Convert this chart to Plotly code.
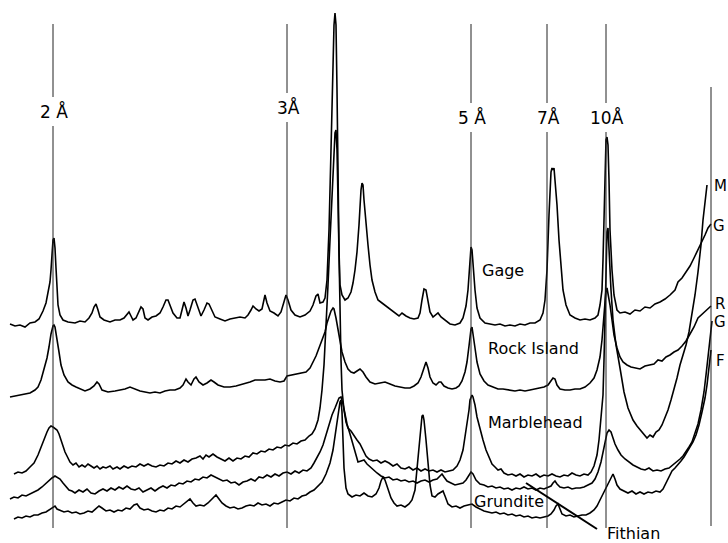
import plotly.graph_objects as go

# ---- data: diffractogram traces (x = chart position, y = row from top) ----
GAGE = [(10,324),(15,326),(20,325),(25,327),(30,323),(35,322),(39,319),(43,311),(46,303),(48,294),(50,282),(51,270),(52,254),(53,240),(54,238),(55,248),(56,268),(57,290),(58,305),(60,315),(63,320),(68,322),(75,323),(80,321),(85,322),(89,318),(92,313),(94,307),(96,304),(98,310),(100,317),(104,320),(110,322),(115,320),(120,320),(124,318),(127,315),(129,312),(131,316),(133,320),(136,318),(139,312),(141,307),(143,309),(145,318),(148,320),(152,317),(156,316),(160,313),(163,307),(166,300),(168,300),(170,306),(173,313),(177,318),(180,318),(182,310),(184,302),(186,308),(188,316),(190,310),(193,300),(195,299),(198,308),(201,316),(204,310),(207,303),(209,304),(212,311),(215,317),(220,319),(225,321),(230,319),(235,318),(240,317),(245,318),(248,315),(251,310),(253,306),(256,309),(259,311),(262,309),(264,300),(265,295),(267,303),(270,311),(274,313),(278,316),(281,312),(284,302),(286,295),(288,300),(291,310),(295,315),(300,317),(305,315),(310,311),(313,305),(316,296),(318,294),(320,303),(323,302),(325,298),(327,280),(329,230),(331,150),(333,60),(334,25),(335,13),(336,25),(337,90),(338,180),(339,250),(340,285),(342,295),(345,300),(348,298),(351,292),(353,283),(355,270),(357,252),(359,225),(360,205),(361,190),(362,183),(363,185),(364,200),(366,225),(368,245),(370,265),(372,280),(375,292),(378,300),(382,303),(386,306),(390,309),(393,312),(396,314),(399,316),(402,313),(406,316),(410,318),(414,319),(418,318),(420,313),(422,300),(424,289),(426,290),(428,300),(430,312),(433,317),(436,314),(438,313),(441,317),(445,320),(450,324),(455,325),(460,323),(463,318),(466,306),(468,290),(469,273),(470,255),(471,247),(472,250),(473,265),(475,290),(477,308),(480,318),(485,323),(490,324),(495,325),(500,324),(505,326),(510,325),(515,326),(520,324),(525,325),(530,323),(535,323),(540,320),(543,313),(545,300),(547,270),(549,215),(550,185),(551,172),(552,168),(553,170),(554,168),(555,178),(557,205),(559,240),(561,270),(563,290),(566,305),(570,315),(575,318),(580,320),(585,319),(590,320),(595,318),(598,315),(600,305),(602,290),(603,260),(604,210),(605,165),(606,140),(607,137),(608,145),(609,180),(610,230),(612,270),(614,295),(617,310),(620,313),(625,312),(630,314),(635,310),(640,311),(645,307),(650,308),(655,304),(660,302),(665,299),(670,295),(675,290),(678,282),(682,278),(686,272),(690,266),(694,258),(698,250),(702,242),(705,235),(708,228),(711,224)]

ROCK_ISLAND = [(10,397),(15,396),(20,395),(25,394),(30,393),(35,390),(38,387),(41,380),(44,370),(47,358),(49,347),(51,334),(53,326),(54,325),(55,327),(57,338),(59,352),(61,365),(64,375),(68,382),(72,385),(76,387),(80,389),(85,391),(90,389),(94,386),(97,382),(99,384),(102,390),(108,392),(115,391),(120,390),(125,389),(130,387),(135,389),(140,391),(145,392),(150,393),(155,392),(160,393),(165,391),(170,390),(175,390),(180,388),(183,385),(186,379),(188,382),(191,385),(194,379),(196,377),(199,382),(203,385),(207,383),(211,380),(214,382),(218,385),(224,387),(230,387),(236,386),(240,385),(245,384),(250,382),(255,380),(260,380),(265,380),(270,379),(275,381),(280,382),(284,381),(287,376),(292,375),(297,374),(302,373),(306,372),(310,368),(313,362),(316,356),(319,348),(322,340),(325,332),(327,323),(329,316),(331,311),(333,308),(334,309),(336,318),(338,330),(340,342),(342,352),(345,362),(348,369),(351,372),(354,373),(357,371),(360,369),(363,372),(366,377),(370,382),(375,384),(380,383),(385,382),(390,384),(395,386),(400,387),(405,388),(410,388),(414,386),(418,383),(421,377),(423,371),(425,364),(426,362),(428,368),(430,377),(433,383),(436,385),(439,382),(441,382),(444,386),(448,388),(452,389),(456,388),(459,386),(462,381),(465,372),(467,362),(469,346),(470,336),(471,329),(472,327),(473,333),(475,348),(477,362),(480,374),(484,381),(488,385),(493,387),(498,389),(503,389),(510,390),(515,391),(520,390),(525,391),(530,390),(535,389),(540,388),(544,387),(548,385),(551,381),(553,378),(555,379),(557,385),(560,389),(565,390),(570,390),(575,389),(580,389),(585,387),(590,383),(594,378),(597,370),(600,357),(602,340),(604,318),(605,300),(606,290),(607,288),(608,293),(610,305),(612,320),(614,335),(617,348),(620,357),(623,362),(627,365),(631,367),(636,368),(640,369),(645,366),(650,365),(654,364),(658,360),(662,361),(666,357),(670,355),(674,352),(678,350),(682,346),(686,341),(690,334),(694,327),(698,318),(702,314),(706,310),(711,306)]

MARBLEHEAD = [(14,474),(18,472),(22,473),(26,471),(30,467),(34,463),(38,455),(41,447),(44,440),(47,432),(49,428),(51,426),(53,427),(55,429),(57,430),(59,434),(61,440),(63,447),(65,452),(67,456),(70,462),(73,465),(76,463),(79,467),(82,465),(85,467),(88,464),(91,466),(94,468),(97,466),(100,469),(103,467),(106,468),(110,466),(113,469),(117,467),(120,469),(124,466),(128,468),(132,466),(136,467),(140,464),(144,466),(148,464),(152,466),(156,467),(160,465),(164,466),(168,463),(172,464),(176,461),(180,463),(184,460),(188,462),(192,459),(196,458),(200,456),(203,459),(206,455),(209,457),(213,454),(217,457),(221,459),(225,461),(229,458),(233,461),(237,458),(241,459),(245,456),(249,457),(253,453),(257,454),(261,451),(265,452),(269,449),(273,450),(277,447),(281,448),(285,445),(289,446),(293,443),(297,444),(301,441),(305,440),(309,436),(312,434),(315,429),(318,420),(320,408),(322,390),(324,365),(326,330),(328,285),(330,240),(332,190),(334,150),(335,133),(336,130),(337,150),(338,200),(339,260),(340,320),(341,360),(342,390),(344,410),(346,422),(348,428),(351,431),(354,436),(357,440),(360,444),(363,450),(366,456),(369,459),(373,461),(377,460),(381,463),(385,461),(389,463),(393,466),(397,464),(401,468),(405,469),(409,467),(413,470),(417,468),(421,471),(425,469),(429,471),(433,470),(437,472),(441,470),(445,472),(449,471),(453,470),(457,466),(460,460),(463,450),(465,438),(467,425),(469,410),(470,400),(471,396),(472,395),(473,397),(475,405),(477,417),(480,430),(483,440),(486,450),(489,458),(492,464),(495,467),(498,470),(501,469),(504,473),(508,475),(512,474),(516,476),(520,474),(524,477),(528,475),(532,476),(536,474),(540,477),(544,475),(548,476),(552,474),(556,476),(560,477),(564,475),(568,476),(572,473),(576,475),(580,476),(584,474),(588,475),(591,472),(594,466),(597,455),(599,440),(601,420),(603,395),(604,360),(605,310),(606,260),(607,232),(608,228),(609,250),(611,290),(613,320),(616,345),(620,368),(624,392),(628,408),(633,420),(637,426),(641,431),(644,434),(647,438),(650,435),(653,437),(656,432),(659,430),(662,425),(665,418),(668,410),(671,400),(674,390),(677,378),(680,365),(683,355),(686,345),(689,332),(692,315),(695,295),(698,272),(701,245),(703,220),(705,200),(707,185)]

GRUNDITE = [(10,499),(14,497),(18,498),(22,495),(26,496),(30,494),(34,492),(38,490),(42,487),(46,483),(49,480),(52,478),(55,476),(57,477),(60,479),(63,483),(66,487),(69,490),(72,491),(75,493),(79,490),(83,492),(87,489),(91,493),(95,494),(99,491),(103,489),(107,491),(111,488),(115,490),(119,487),(123,489),(127,486),(131,489),(135,490),(139,488),(143,492),(147,490),(151,488),(155,491),(159,488),(163,486),(167,488),(171,485),(175,486),(179,483),(183,484),(187,481),(191,482),(195,479),(199,480),(203,477),(207,478),(211,475),(215,477),(219,479),(223,481),(227,480),(231,483),(235,482),(239,485),(243,482),(247,481),(251,479),(255,481),(259,477),(263,478),(267,475),(271,477),(275,474),(279,476),(283,473),(287,472),(291,474),(295,471),(299,473),(303,470),(307,471),(311,468),(314,463),(317,458),(320,452),(323,445),(326,435),(329,424),(332,415),(335,408),(337,402),(339,398),(341,397),(343,404),(345,414),(347,424),(350,434),(353,444),(356,455),(358,462),(361,461),(364,460),(367,464),(370,467),(373,469),(377,473),(381,476),(385,478),(389,477),(393,480),(397,479),(401,481),(405,480),(409,482),(413,481),(417,483),(421,481),(425,480),(429,482),(433,480),(437,479),(440,476),(442,474),(444,477),(447,481),(451,483),(455,485),(459,484),(463,483),(466,480),(469,475),(471,472),(473,474),(476,480),(480,484),(484,485),(488,487),(492,486),(496,488),(500,487),(504,489),(508,488),(512,490),(516,488),(520,489),(524,487),(528,489),(532,488),(536,490),(540,488),(544,489),(548,487),(551,486),(553,483),(555,481),(557,484),(560,487),(564,488),(568,487),(572,489),(576,488),(580,488),(584,487),(588,485),(592,483),(595,479),(598,472),(601,462),(603,452),(605,442),(607,433),(609,430),(611,432),(613,438),(615,444),(618,450),(621,455),(625,459),(629,462),(633,465),(637,467),(641,469),(645,470),(649,468),(653,471),(657,470),(661,471),(665,469),(669,468),(673,465),(677,462),(680,459),(683,456),(686,452),(689,447),(692,442),(695,434),(698,424),(701,410),(704,392),(706,375),(708,355),(710,335),(712,321)]

FITHIAN = [(14,519),(18,517),(22,518),(26,516),(30,517),(34,515),(38,515),(42,513),(46,512),(50,509),(53,507),(55,506),(57,509),(60,510),(64,512),(68,511),(72,513),(76,512),(80,514),(84,513),(88,511),(92,512),(96,509),(99,506),(102,508),(106,511),(110,510),(114,512),(118,510),(122,511),(126,508),(130,509),(134,505),(137,504),(140,508),(144,510),(148,509),(152,511),(156,512),(160,510),(164,511),(168,508),(172,509),(176,506),(180,507),(184,504),(187,502),(190,499),(193,503),(196,506),(200,505),(204,506),(208,503),(211,500),(214,496),(216,495),(219,499),(222,503),(226,506),(230,508),(234,507),(238,509),(242,508),(246,506),(250,505),(254,506),(258,503),(262,505),(266,504),(270,506),(274,503),(278,504),(282,502),(286,500),(290,501),(294,498),(298,499),(302,496),(306,495),(310,492),(314,490),(318,486),(322,482),(326,474),(330,463),(333,450),(336,430),(338,413),(340,402),(341,400),(342,412),(343,440),(344,468),(346,488),(348,494),(352,497),(356,495),(360,496),(364,493),(368,496),(372,497),(376,494),(379,488),(381,481),(383,477),(385,480),(388,490),(391,498),(394,503),(397,506),(401,505),(405,507),(409,504),(412,500),(415,490),(417,470),(419,447),(421,425),(422,416),(423,415),(424,420),(426,440),(428,465),(430,485),(432,496),(435,497),(438,494),(441,492),(443,491),(445,496),(448,504),(452,507),(456,506),(460,508),(464,506),(468,505),(472,504),(476,507),(480,509),(484,511),(488,512),(492,513),(496,512),(500,514),(504,513),(508,515),(512,514),(516,516),(520,515),(524,517),(528,516),(532,518),(536,517),(540,518),(544,517),(548,516),(551,514),(554,510),(556,506),(558,504),(560,509),(562,514),(566,516),(570,515),(574,517),(578,516),(582,515),(586,515),(590,513),(594,510),(597,506),(600,500),(603,494),(606,487),(609,481),(611,477),(613,474),(615,479),(617,485),(620,489),(624,491),(628,493),(632,491),(636,494),(640,492),(644,494),(648,492),(652,493),(656,491),(660,492),(663,489),(666,483),(669,476),(672,471),(675,468),(678,465),(681,461),(684,457),(687,452),(690,448),(693,442),(696,435),(699,425),(702,412),(705,398),(707,385),(709,368),(711,350)]

# d-spacing reference lines
D_LABELS = ["2 Å", "3Å", "5 Å", "7Å", "10Å"]
D_POS = [53, 287, 471, 547, 606]
END_POS = 711

SAMPLE_NAMES = ["Gage", "Rock Island", "Marblehead", "Grundite", "Fithian"]
END_LETTERS = ["M", "G", "R", "G", "F"]

W, H = 728, 543
fig = go.Figure()

for data in [GAGE, ROCK_ISLAND, MARBLEHEAD, GRUNDITE, FITHIAN]:
    xs = [p[0] for p in data]
    ys = [p[1] for p in data]
    fig.add_trace(go.Scatter(x=xs, y=ys, mode="lines",
                             line=dict(color="black", width=1.6),
                             hoverinfo="skip", showlegend=False))

shapes = []
label_rows = [111, 107, 117, 117, 117]
for x, ly in zip(D_POS, label_rows):
    shapes.append(dict(type="line", x0=x, x1=x, y0=24, y1=ly - 14, xref="x", yref="y",
                       line=dict(color="#222", width=1)))
    shapes.append(dict(type="line", x0=x, x1=x, y0=ly + 15, y1=528, xref="x", yref="y",
                       line=dict(color="#222", width=1)))
shapes.append(dict(type="line", x0=END_POS, x1=END_POS, y0=87, y1=526, xref="x", yref="y",
                   line=dict(color="#222", width=1)))
# pointer to Fithian
shapes.append(dict(type="line", x0=526, x1=597, y0=483, y1=529, xref="x", yref="y",
                   line=dict(color="black", width=2)))

ann = []
font = dict(family="DejaVu Sans", size=16, color="black")
for x, lab, ly in zip(D_POS, D_LABELS, label_rows):
    ann.append(dict(x=x + 1, y=ly, text=lab, showarrow=False, xref="x", yref="y",
                    font=dict(family="DejaVu Sans", size=17, color="black")))
name_pos = [(503, 270), (533, 348), (535, 422), (509, 501), (633, 533)]
for (x, y), name in zip(name_pos, SAMPLE_NAMES):
    ann.append(dict(x=x, y=y, text=name, showarrow=False, xref="x", yref="y", font=font))
letter_pos = [(720, 186), (719, 226), (720, 304), (720, 322), (720, 361)]
for (x, y), letter in zip(letter_pos, END_LETTERS):
    ann.append(dict(x=x, y=y, text=letter, showarrow=False, xref="x", yref="y",
                    font=dict(family="DejaVu Sans", size=15, color="black")))

fig.update_layout(
    width=W, height=H,
    margin=dict(l=0, r=0, t=0, b=0),
    paper_bgcolor="white", plot_bgcolor="white",
    xaxis=dict(range=[0, W], visible=False, fixedrange=True),
    yaxis=dict(range=[H, 0], visible=False, fixedrange=True),
    shapes=shapes, annotations=ann, showlegend=False,
)

fig.write_html("out.html", config={"displayModeBar": False})

# remove the browser's default page margin so the figure sits at the window's corner
with open("out.html", encoding="utf-8") as f:
    html = f.read()
html = html.replace("<body>", '<body style="margin:0;padding:0;overflow:hidden">', 1)
with open("out.html", "w", encoding="utf-8") as f:
    f.write(html)
